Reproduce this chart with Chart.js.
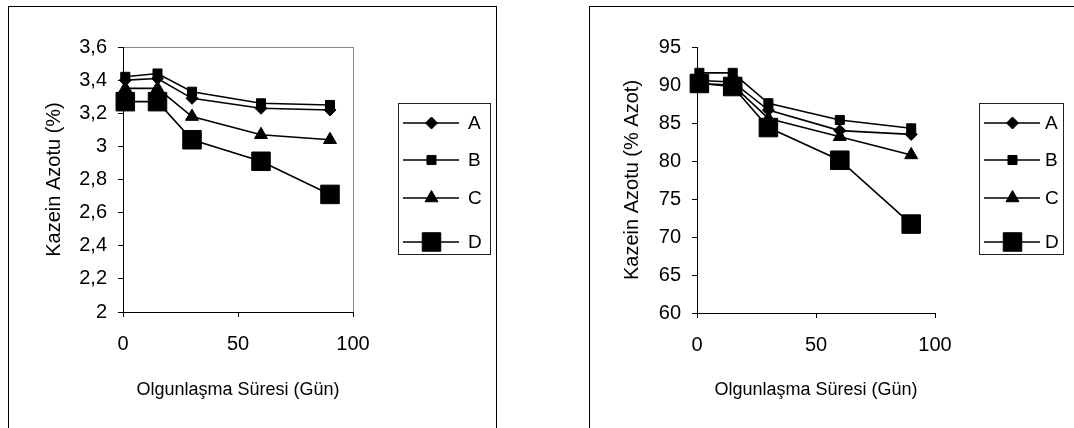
<!DOCTYPE html>
<html>
<head>
<meta charset="utf-8">
<title>Kazein Azotu</title>
<script src="https://cdn.jsdelivr.net/npm/chart.js@4.4.0/dist/chart.umd.min.js"></script>
<style>
  html, body { margin: 0; padding: 0; background: #fff; overflow: hidden; }
  .panel { position: absolute; top: 6px; height: 440px; border: 1px solid #000; background: #fff; }
  #leftPanel { left: 8px; width: 487px; }
  #rightPanel { left: 589px; width: 520px; }
  .panel canvas { position: absolute; left: 0; top: 0; }
</style>
</head>
<body>
<div class="panel" id="leftPanel"><canvas id="pctChart" width="486" height="421"></canvas></div>
<div class="panel" id="rightPanel"><canvas id="azotChart" width="484" height="421"></canvas></div>
<script>
// Olgunlaşma süresi (gün)
const days = [1, 15, 30, 60, 90];
const seriesNames = ['A', 'B', 'C', 'D'];

// Kazein azotu (%)
const pctA = [3.40, 3.41, 3.29, 3.23, 3.22];
const pctB = [3.42, 3.44, 3.33, 3.26, 3.25];
const pctC = [3.35, 3.35, 3.18, 3.07, 3.04];
const pctD = [3.27, 3.27, 3.04, 2.91, 2.71];

// Kazein azotu (% azot)
const azotA = [90.6, 90.4, 86.7, 84.0, 83.5];
const azotB = [91.6, 91.6, 87.6, 85.4, 84.3];
const azotC = [90.2, 90.0, 85.6, 83.2, 80.8];
const azotD = [90.2, 89.8, 84.4, 80.1, 71.7];

// eksen sınırları
const xAxis = { min: 0, max: 100, step: 50 };
const pctAxis = { min: 2, max: 3.6, step: 0.2 };
const azotAxis = { min: 60, max: 95, step: 5 };

const FONT = '"Liberation Sans", Arial, sans-serif';
const markers = [
    { pointStyle: 'rectRot', radius: 6 },
    { pointStyle: 'rect', radius: 6.4 },
    { pointStyle: 'triangle', radius: 7.5 },
    { pointStyle: 'rect', radius: 13.1 }
];

const buildDatasets = (seriesList) => seriesList.map((values, i) => ({
    label: seriesNames[i],
    data: values.map((v, k) => ({ x: days[k], y: v })),
    showLine: true,
    borderColor: '#000',
    borderWidth: 1.6,
    backgroundColor: '#000',
    pointStyle: markers[i].pointStyle,
    pointRadius: markers[i].radius,
    pointHoverRadius: markers[i].radius,
    pointBorderWidth: 1,
    pointBorderColor: '#000',
    pointBackgroundColor: '#000',
    clip: false,
    order: seriesNames.length - i
}));

// çizgi + işaretli lejant kutusu
const legendRows = [20, 57, 95, 139];
const markerLegend = {
    id: 'markerLegend',
    afterDraw(chart, args, opts) {
        const ctx = chart.ctx;
        ctx.save();
        ctx.strokeStyle = '#222';
        ctx.lineWidth = 1;
        ctx.strokeRect(opts.x + 0.5, opts.y + 0.5, opts.w, opts.h);
        chart.data.datasets.forEach((ds, i) => {
            const y = opts.y + legendRows[i];
            ctx.strokeStyle = '#000';
            ctx.fillStyle = '#000';
            ctx.lineWidth = ds.borderWidth;
            ctx.beginPath();
            ctx.moveTo(opts.x + opts.lineFrom, y);
            ctx.lineTo(opts.x + opts.lineTo, y);
            ctx.stroke();
            ctx.lineWidth = 1;
            Chart.helpers.drawPoint(ctx, {
                pointStyle: ds.pointStyle, radius: ds.pointRadius, rotation: 0, borderWidth: 1
            }, opts.x + opts.markX, y);
            ctx.font = '19px ' + FONT;
            ctx.textAlign = 'left';
            ctx.textBaseline = 'middle';
            ctx.fillText(ds.label, opts.x + opts.textX, y + 1);
        });
        ctx.restore();
    }
};

// sol grafikteki gri çizim alanı çerçevesi
const plotFrame = {
    id: 'plotFrame',
    beforeDraw(chart, args, opts) {
        if (!opts.show) return;
        const { left, right, top, bottom } = chart.chartArea;
        const ctx = chart.ctx;
        ctx.save();
        ctx.strokeStyle = '#888';
        ctx.lineWidth = 1;
        ctx.strokeRect(Math.round(left) + 0.5, Math.round(top) + 0.5, Math.round(right - left), Math.round(bottom - top));
        ctx.restore();
    }
};

const createChart = (canvasId, datasets, yRange, yTitle, tickFormat, box) => {
    new Chart(document.getElementById(canvasId), {
        type: 'scatter',
        data: { datasets: datasets },
        plugins: [plotFrame, markerLegend],
        options: {
            responsive: false,
            animation: false,
            events: [],
            layout: { padding: { left: 0, top: box.top, right: box.right, bottom: box.bottom } },
            plugins: {
                legend: { display: false },
                tooltip: { enabled: false },
                plotFrame: { show: box.frame },
                markerLegend: { x: 389, y: 96, w: box.legendW, h: 151, lineFrom: 5, lineTo: 61, markX: 33.5, textX: box.textX }
            },
            scales: {
                x: {
                    type: 'linear',
                    min: xAxis.min,
                    max: xAxis.max,
                    afterFit: (scale) => { scale.height = box.xHeight; },
                    ticks: { stepSize: xAxis.step, color: '#000', font: { family: FONT, size: 20 }, padding: 15 },
                    grid: { drawOnChartArea: false, drawTicks: true, tickLength: 5, color: '#000' },
                    border: { display: true, color: '#000', width: 1 },
                    title: {
                        display: true, text: 'Olgunlaşma Süresi (Gün)', color: '#000',
                        font: { family: FONT, size: 18 }, padding: { top: 0, bottom: 0 }
                    }
                },
                y: {
                    type: 'linear',
                    min: yRange.min,
                    max: yRange.max,
                    afterFit: (scale) => { scale.width = box.left; },
                    ticks: {
                        stepSize: yRange.step, autoSkip: false, color: '#000',
                        font: { family: FONT, size: 20 }, padding: 11,
                        callback: tickFormat
                    },
                    grid: { drawOnChartArea: false, drawTicks: true, tickLength: 5, color: '#000' },
                    border: { display: true, color: '#000', width: 1 },
                    title: {
                        display: true, text: yTitle, color: '#000',
                        font: { family: FONT, size: 20 }, padding: { top: box.yTitlePad, bottom: 0 }
                    }
                }
            }
        }
    });
};

createChart('pctChart', buildDatasets([pctA, pctB, pctC, pctD]), pctAxis, 'Kazein Azotu (%)',
    (v) => String(Math.round(v * 10) / 10).replace('.', ','),
    { left: 114, right: 142, top: 40, bottom: 27, xHeight: 89, yTitlePad: 33, frame: true, legendW: 92, textX: 70 });

createChart('azotChart', buildDatasets([azotA, azotB, azotC, azotD]), azotAxis, 'Kazein Azotu (% Azot)',
    (v) => String(Math.round(v)),
    { left: 107, right: 139, top: 40, bottom: 27, xHeight: 88, yTitlePad: 30, frame: false, legendW: 84, textX: 66 });
</script>
</body>
</html>
